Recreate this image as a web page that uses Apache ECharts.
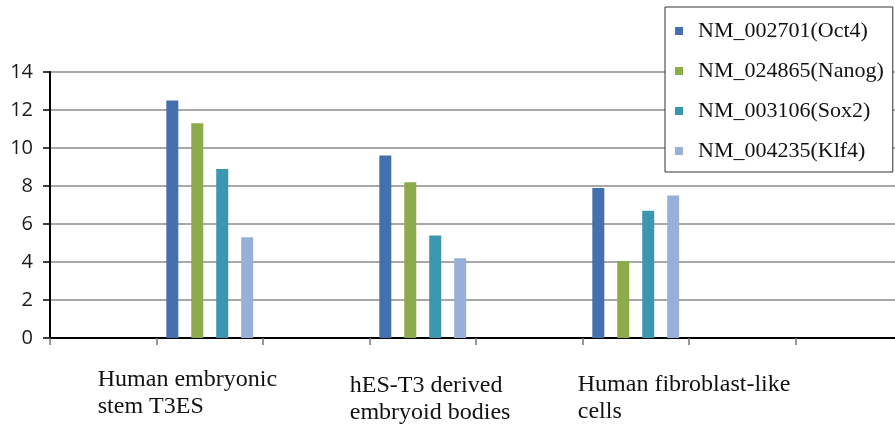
<!DOCTYPE html>
<html>
<head>
<meta charset="utf-8">
<script src="https://cdn.jsdelivr.net/npm/echarts@6/dist/echarts.min.js"></script>
<style>
  html, body { margin: 0; padding: 0; background: #fff; }
  #chart { width: 895px; height: 428px; }
</style>
</head>
<body>
<div id="chart"></div>
<script>
// Category slots along the x axis; the blank slots are spacers between groups.
var categories = ['', 'Human embryonic\nstem T3ES', '', 'hES-T3 derived\nembryoid bodies', '', 'Human fibroblast-like\ncells', '', ''];

// Expression levels per gene (null in spacer slots).
var oct4  = [null, 12.5, null, 9.6, null, 7.9, null, null];
var nanog = [null, 11.3, null, 8.2, null, 4.05, null, null];
var sox2  = [null, 8.9,  null, 5.4, null, 6.7, null, null];
var klf4  = [null, 5.3,  null, 4.2, null, 7.5, null, null];

var seriesNames = ['NM_002701(Oct4)', 'NM_024865(Nanog)', 'NM_003106(Sox2)', 'NM_004235(Klf4)'];
var seriesColors = ['#4470ad', '#8dab4a', '#3b97b0', '#98b0d8'];
var yTicks = { min: 0, max: 14, interval: 2 };

// Per-label nudges for the multi-line category captions [top, left].
var labelShift = { 1: [0, -112], 3: [6, -73], 5: [5, -58] };

var chart = echarts.init(document.getElementById('chart'), null, { renderer: 'canvas' });

var xData = categories.map(function (c, i) {
  var s = labelShift[i];
  if (!s) return c;
  return {
    value: c,
    textStyle: { align: 'left', verticalAlign: 'top', padding: [s[0], 0, 0, s[1]] }
  };
});

var seriesValues = [oct4, nanog, sox2, klf4];
var series = seriesValues.map(function (vals, i) {
  return {
    name: seriesNames[i],
    type: 'bar',
    data: vals,
    barWidth: 12,
    barGap: '108%',
    itemStyle: { color: seriesColors[i] }
  };
});

chart.setOption({
  animation: false,
  backgroundColor: '#ffffff',
  color: seriesColors,
  grid: { left: 50, top: 72, bottom: 90, width: 852, containLabel: false, outerBoundsMode: 'none' },
  legend: {
    orient: 'vertical',
    left: 665,
    top: 7,
    padding: [13, 9, 10, 10],
    itemWidth: 8,
    itemHeight: 8,
    itemGap: 18,
    icon: 'rect',
    backgroundColor: '#ffffff',
    borderColor: '#333333',
    borderWidth: 1,
    data: seriesNames,
    textStyle: {
      fontFamily: '"Liberation Serif", "DejaVu Serif", serif',
      fontSize: 22,
      lineHeight: 22,
      color: '#111111',
      padding: [0, 0, 0, 10]
    }
  },
  xAxis: {
    type: 'category',
    data: xData,
    boundaryGap: true,
    axisLine: { show: true, lineStyle: { color: '#000000', width: 2 } },
    axisTick: { show: true, interval: 0, length: 7, lineStyle: { color: '#777777', width: 1.5 } },
    axisLabel: {
      interval: 0,
      align: 'left',
      verticalAlign: 'top',
      margin: 28,
      fontFamily: '"Liberation Serif", "DejaVu Serif", serif',
      fontSize: 24,
      lineHeight: 27,
      color: '#111111'
    },
    splitLine: { show: false }
  },
  yAxis: {
    type: 'value',
    min: yTicks.min,
    max: yTicks.max,
    interval: yTicks.interval,
    axisLine: { show: true, lineStyle: { color: '#000000', width: 2 } },
    axisTick: { show: true, length: 7, lineStyle: { color: '#000000', width: 1.5 } },
    axisLabel: {
      margin: 17,
      fontFamily: '"Open Sans", "Liberation Sans", sans-serif',
      fontSize: 20,
      color: '#1a1a1a'
    },
    splitLine: { show: true, lineStyle: { color: '#a8a8a8', width: 2 } }
  },
  series: series
});
</script>
</body>
</html>
